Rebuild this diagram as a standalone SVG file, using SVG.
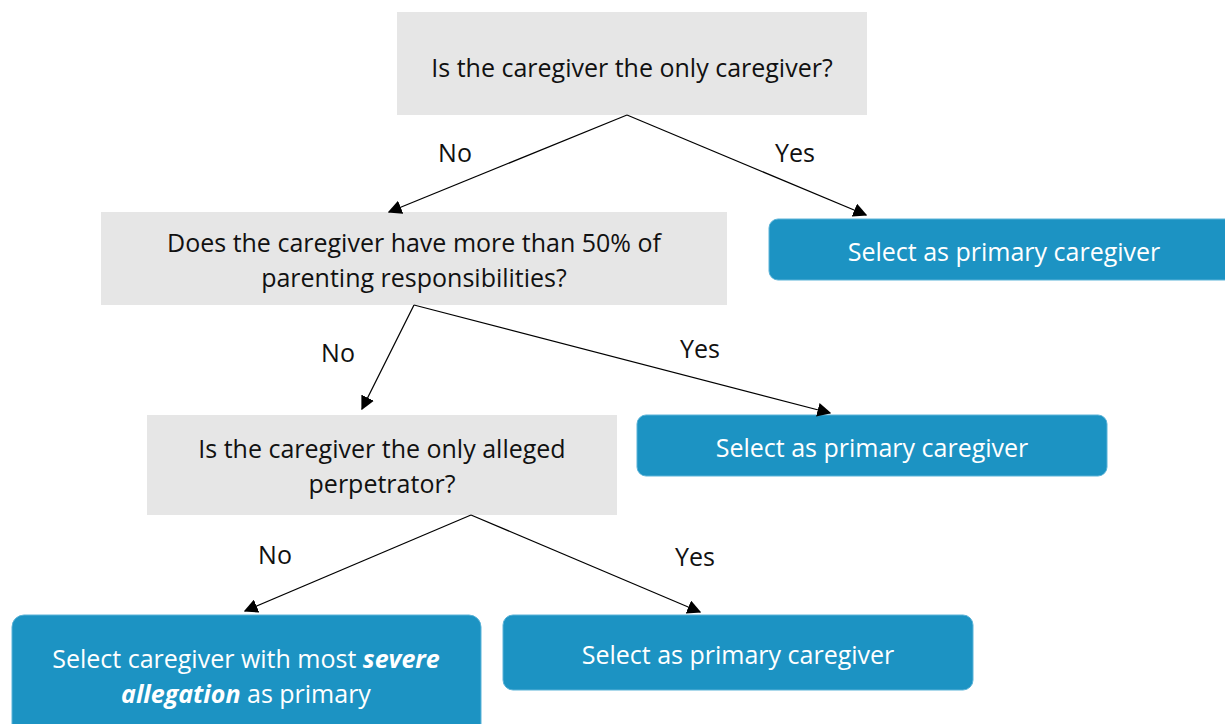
<svg xmlns="http://www.w3.org/2000/svg" width="1225" height="724" viewBox="0 0 1225 724">
<style>
.q{fill:#E6E6E6}
.a{fill:#1C93C3;stroke:#5BB3D8;stroke-width:1}
.t{font-family:"Open Sans","Noto Sans",sans-serif;font-size:25px;text-anchor:middle;fill:#111}
.w{font-family:"Open Sans","Noto Sans",sans-serif;font-size:25px;text-anchor:middle;fill:#fff}
.c{stroke:#000;stroke-width:1.2;fill:none;marker-end:url(#ah)}
</style>
<defs>
<marker id="ah" viewBox="0 0 10 10" refX="9" refY="5" markerWidth="14" markerHeight="14" markerUnits="userSpaceOnUse" orient="auto">
<path d="M0,0 L10,5 L0,10 z" fill="#000"/>
</marker>
</defs>
<rect width="1225" height="724" fill="#fff"/>
<g id="q1"><rect class="q" x="397" y="12" width="470" height="103"/><text class="t" x="632" y="77">Is the caregiver the only caregiver?</text></g>
<g id="q2"><rect class="q" x="101" y="212" width="626" height="93"/><text class="t" x="414" y="252">Does the caregiver have more than 50% of</text><text class="t" x="414" y="287">parenting responsibilities?</text></g>
<g id="q3"><rect class="q" x="147" y="415" width="470" height="100"/><text class="t" x="382" y="458">Is the caregiver the only alleged</text><text class="t" x="382" y="493">perpetrator?</text></g>
<g id="a1"><rect class="a" x="769" y="219" width="470" height="61" rx="9"/><text class="w" x="1004" y="261">Select as primary caregiver</text></g>
<g id="a2"><rect class="a" x="637" y="415" width="470" height="61" rx="9"/><text class="w" x="872" y="457">Select as primary caregiver</text></g>
<g id="a3"><rect class="a" x="12" y="615" width="469" height="125" rx="12"/><text class="w" x="246" y="668">Select caregiver with most <tspan font-weight="bold" font-style="italic">severe</tspan></text><text class="w" x="246" y="703"><tspan font-weight="bold" font-style="italic">allegation</tspan> as primary</text></g>
<g id="a4"><rect class="a" x="503" y="615" width="470" height="75" rx="10"/><text class="w" x="738" y="664">Select as primary caregiver</text></g>
<g id="connectors">
<line class="c" x1="627" y1="115" x2="389" y2="212"/>
<line class="c" x1="627" y1="115" x2="866" y2="215"/>
<line class="c" x1="414" y1="305" x2="362" y2="409"/>
<line class="c" x1="414" y1="305" x2="830" y2="413"/>
<line class="c" x1="471" y1="515" x2="245" y2="611"/>
<line class="c" x1="471" y1="515" x2="700" y2="612"/>
<text class="t" x="455" y="162">No</text>
<text class="t" x="795" y="162">Yes</text>
<text class="t" x="338" y="362">No</text>
<text class="t" x="700" y="358">Yes</text>
<text class="t" x="275" y="564">No</text>
<text class="t" x="695" y="566">Yes</text>
</g>
</svg>
